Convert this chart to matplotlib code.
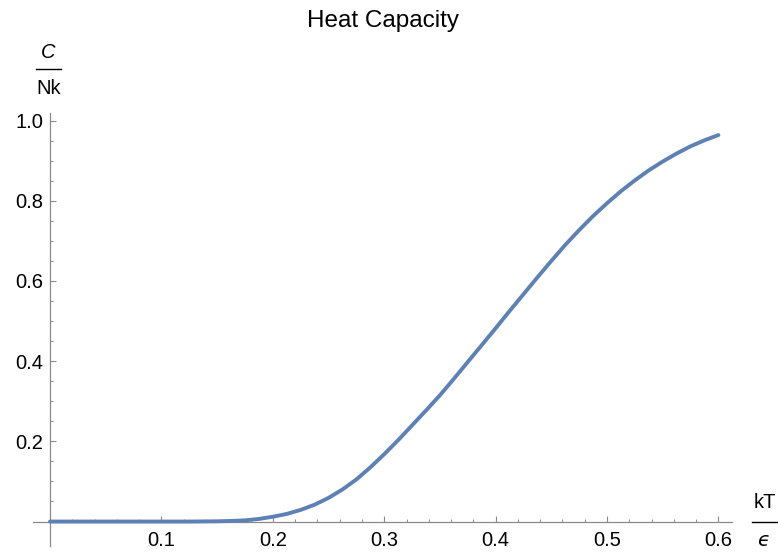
import numpy as np
import matplotlib
matplotlib.use("Agg")
import matplotlib.pyplot as plt
from matplotlib.ticker import FixedLocator, FixedFormatter
from matplotlib.lines import Line2D

# data (kT/eps, C/Nk)
kT_eps = [0.000, 0.025, 0.050, 0.075, 0.100, 0.125, 0.150, 0.1625, 0.175, 0.1875,
          0.200, 0.2125, 0.225, 0.2375, 0.250, 0.2625, 0.275, 0.2875, 0.300, 0.3125,
          0.325, 0.3375, 0.350, 0.3625, 0.375, 0.3875, 0.400, 0.4125, 0.425, 0.4375,
          0.450, 0.4625, 0.475, 0.4875, 0.500, 0.5125, 0.525, 0.5375, 0.550, 0.5625,
          0.575, 0.5875, 0.600]
C_Nk = [0.0, 0.0, 0.0, 0.0, 0.0, 0.0, 0.0006, 0.0015, 0.003, 0.0065,
        0.012, 0.019, 0.029, 0.042, 0.059, 0.080, 0.105, 0.135, 0.168, 0.203,
        0.240, 0.277, 0.315, 0.356, 0.398, 0.440, 0.482, 0.525, 0.567, 0.609,
        0.650, 0.690, 0.727, 0.762, 0.794, 0.824, 0.851, 0.876, 0.898, 0.918,
        0.936, 0.951, 0.964]

x_major = [0.1, 0.2, 0.3, 0.4, 0.5, 0.6]
x_major_labels = ["0.1", "0.2", "0.3", "0.4", "0.5", "0.6"]
y_major = [0.2, 0.4, 0.6, 0.8, 1.0]
y_major_labels = ["0.2", "0.4", "0.6", "0.8", "1.0"]
x_minor = [round(0.02 * i, 2) for i in range(1, 31) if i % 5 != 0]
y_minor = [round(0.05 * i, 2) for i in range(1, 20) if i % 4 != 0]

title = "Heat Capacity"

FONT = ["Liberation Sans", "DejaVu Sans"]
plt.rcParams["font.family"] = FONT

W, H = 778, 552
fig = plt.figure(figsize=(W / 100, H / 100), dpi=100)

# axes placed in pixel units
left_px, right_px, top_px, bot_px = 33.3, 731.8, 113.0, 546.0
ax = fig.add_axes([left_px / W, 1 - bot_px / H, (right_px - left_px) / W, (bot_px - top_px) / H])
ax.set_xlim(-0.015, 0.612)
ax.set_ylim(-0.061, 1.019)

axis_color = "#8a8a8a"
for s in ["top", "right"]:
    ax.spines[s].set_visible(False)
ax.spines["left"].set_position(("data", 0))
ax.spines["bottom"].set_position(("data", 0))
for s in ["left", "bottom"]:
    ax.spines[s].set_color(axis_color)
    ax.spines[s].set_linewidth(0.9)

ax.xaxis.set_major_locator(FixedLocator(x_major))
ax.xaxis.set_major_formatter(FixedFormatter(x_major_labels))
ax.xaxis.set_minor_locator(FixedLocator(x_minor))
ax.yaxis.set_major_locator(FixedLocator(y_major))
ax.yaxis.set_major_formatter(FixedFormatter(y_major_labels))
ax.yaxis.set_minor_locator(FixedLocator(y_minor))

ax.tick_params(axis="both", which="major", direction="in", length=4.5, width=0.8,
               color=axis_color, labelsize=14.5, labelcolor="#000000")
ax.tick_params(axis="both", which="minor", direction="in", length=2.5, width=0.7,
               color=axis_color)
ax.tick_params(axis="x", which="major", pad=7)
ax.tick_params(axis="y", which="major", pad=5)

ax.plot(kT_eps, C_Nk, color="#5E81B5", linewidth=2.8, solid_capstyle="round",
        solid_joinstyle="round", zorder=3, clip_on=False)

# title
fig.text(383 / W, 1 - 21 / H, title, ha="center", va="center", fontsize=17.5, color="black")

def px(x, y):
    return x / W, 1 - y / H

# y-axis label as fraction C / Nk
fig.text(*px(48.3, 53), "C", ha="center", va="center", fontsize=14.5, style="italic")
fig.add_artist(Line2D([35.7 / W, 61 / W], [1 - 69 / H, 1 - 69 / H], color="black", linewidth=1.0))
fig.text(*px(48.3, 89), "Nk", ha="center", va="center", fontsize=14.5)

# x-axis label as fraction kT / eps
fig.text(*px(765, 502), "kT", ha="center", va="center", fontsize=14.5)
fig.add_artist(Line2D([752 / W, 777 / W], [1 - 521.7 / H, 1 - 521.7 / H], color="black", linewidth=1.0))
fig.text(*px(764, 541), "\u03f5", ha="center", va="center", fontsize=14.5, style="italic",
         family=["DejaVu Sans"])

fig.savefig("out.png", dpi=100)
